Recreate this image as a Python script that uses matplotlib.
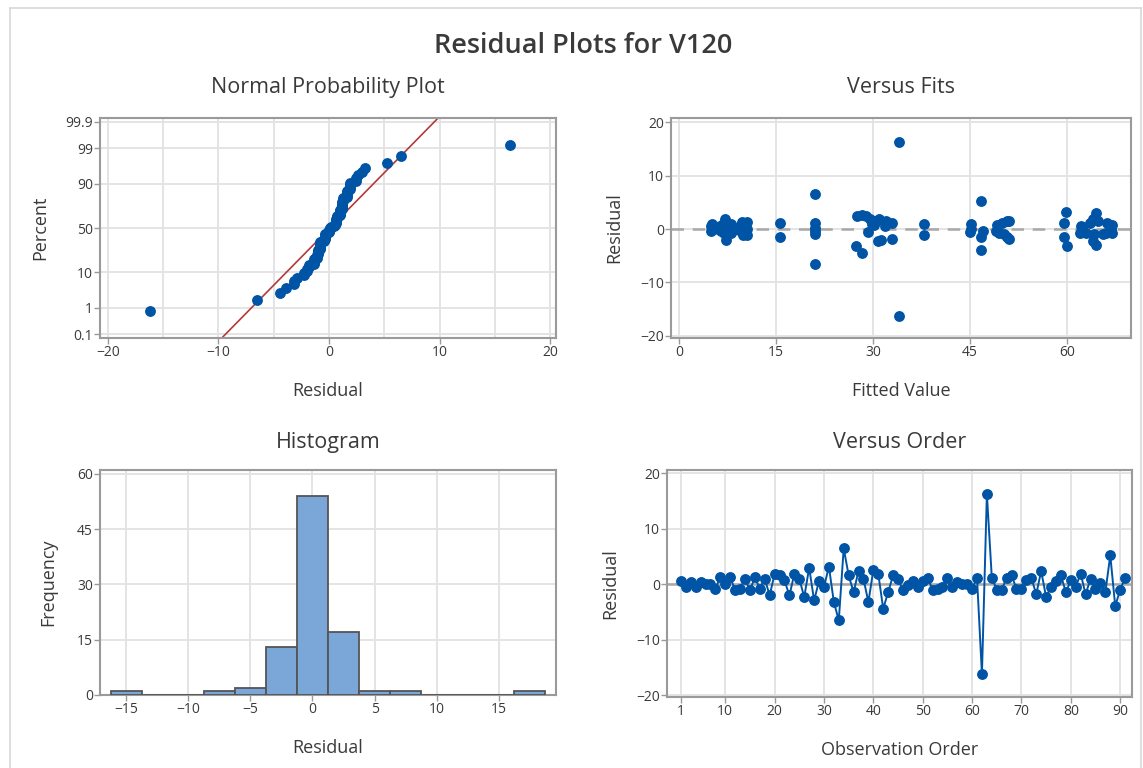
import numpy as np
import matplotlib
matplotlib.use("Agg")
import matplotlib.pyplot as plt
from matplotlib.ticker import MultipleLocator, FixedLocator
from statistics import NormalDist

# ---------------- data ----------------
residuals = [
    0.6, -0.4, 0.5, -0.4, 0.5, 0.1, 0.0, -0.8, 1.3, 0.1,
    1.3, -1.1, -0.8, 1.0, -1.1, 1.3, -0.8, 1.0, -2.0, 1.9,
    1.6, 0.7, -2.0, 1.9, 1.0, -2.3, 3.0, -2.9, 0.6, -0.5,
    3.2, -3.2, -6.5, 6.5, 1.6, -1.4, 2.4, 1.0, -3.2, 2.6,
    1.9, -4.4, -1.4, 1.6, 1.0, -1.1, -0.2, 0.6, -0.5, 0.6,
    1.2, -1.0, -0.8, -0.4, 1.2, -0.4, 0.4, 0.0, 0.0, -0.8,
    1.2, -16.2, 16.3, 1.2, -1.0, -1.0, 1.2, 1.6, -0.8, -0.8,
    0.7, 1.2, -1.8, 2.4, -2.3, -0.4, 0.6, 1.6, -1.4, 0.7,
    -0.4, 1.9, -1.8, 1.0, -0.8, 0.2, -1.4, 5.2, -3.9, -1.0,
    1.2,
]
fitted = [
    5.0, 5.0, 6.3, 6.5, 7.8, 8.3, 6.0, 7.5, 7.2, 10.5,
    9.8, 9.9, 7.0, 6.8, 10.6, 10.5, 8.0, 8.0, 7.3, 7.2,
    30.5, 30.2, 31.2, 29.5, 5.1, 30.8, 64.5, 64.5, 31.8, 29.2,
    59.9, 60.0, 21.0, 21.0, 32.0, 15.6, 27.5, 29.8, 27.4, 28.3,
    31.0, 28.3, 59.6, 50.8, 37.9, 37.9, 9.3, 7.6, 45.0, 9.5,
    21.0, 21.0, 63.0, 21.0, 15.6, 62.5, 62.3, 45.2, 66.8, 66.0,
    63.5, 34.0, 34.0, 59.5, 65.5, 64.2, 66.2, 64.8, 67.0, 62.0,
    67.0, 33.0, 33.0, 29.0, 64.0, 47.0, 62.2, 51.0, 50.8, 49.2,
    49.0, 64.0, 51.0, 45.2, 49.5, 21.1, 46.7, 46.7, 46.7, 50.2,
    50.0,
]
percent_ticks = [0.1, 1, 10, 50, 90, 99, 99.9]
percent_labels = ["0.1", "1", "10", "50", "90", "99", "99.9"]
order_ticks = [1, 10, 20, 30, 40, 50, 60, 70, 80, 90]
fits_ticks = [0, 15, 30, 45, 60]
hist_edges = np.arange(-16.25, 19.0, 2.5)

# ---------------- style ----------------
plt.rcParams['font.family'] = ['Open Sans', 'DejaVu Sans']
BLUE = '#0054A6'
GRID = '#E2E2E2'
SPINE = '#9A9A9A'
TXT = '#3A3A3A'
TSZ = 15.5   # subplot title size
LSZ = 13     # axis label size
KSZ = 10     # tick label size

W, H = 1143, 768
fig = plt.figure(figsize=(W / 100, H / 100), dpi=100)
fig.patch.set_facecolor('white')


def ax_at(l, t, r, b):
    return fig.add_axes([l / W, 1 - b / H, (r - l) / W, (b - t) / H])


def style(ax):
    for s in ax.spines.values():
        s.set_color(SPINE)
        s.set_linewidth(1.5)
    ax.tick_params(which='major', direction='out', length=4, width=1,
                   color=SPINE, labelcolor=TXT, labelsize=KSZ, pad=1)
    ax.tick_params(which='minor', length=0)
    ax.set_axisbelow(True)
    ax.grid(True, which='major', color=GRID, lw=1.3)


# border of the window
fig.add_artist(plt.Line2D([10 / W, 1141 / W], [1 - 8 / H, 1 - 8 / H], color='#D8D8D8', lw=1.2))
fig.add_artist(plt.Line2D([10 / W, 10 / W], [1 - 8 / H, 0], color='#D8D8D8', lw=1.2))
fig.add_artist(plt.Line2D([1141 / W, 1141 / W], [1 - 8 / H, 0], color='#D8D8D8', lw=1.2))

fig.text(583 / W, 1 - 46 / H, "Residual Plots for V120", ha='center', va='center',
         fontsize=19.5, color=TXT, fontweight='semibold')

res = np.array(residuals)
n = len(res)
nd = NormalDist()

# ---------------- Normal probability plot ----------------
ax1 = ax_at(100, 118, 556, 338)
style(ax1)
srt = np.sort(res)
pp = (np.arange(1, n + 1) - 0.3) / (n + 0.4)
zz = np.array([nd.inv_cdf(p) for p in pp])
mu, sd = res.mean(), res.std(ddof=1)
zl = np.array([-3.3, 3.3])
ax1.plot(mu + sd * zl, zl, color='#B23A3A', lw=1.2, zorder=2)
ax1.plot(srt, zz, 'o', color=BLUE, ms=6.8, mec=BLUE, zorder=3)
ax1.set_xlim(-20.7, 20.5)
ax1.set_ylim(-3.2, 3.2)
ax1.xaxis.set_major_locator(FixedLocator([-20, -10, 0, 10, 20]))
ax1.xaxis.set_minor_locator(MultipleLocator(5))
ax1.grid(True, which='minor', axis='x', color=GRID, lw=1.3)
ax1.set_yticks([nd.inv_cdf(p / 100) for p in percent_ticks])
ax1.set_yticklabels(percent_labels)
ax1.set_title("Normal Probability Plot", fontsize=TSZ, color=TXT, pad=18)
ax1.set_xlabel("Residual", fontsize=LSZ, color=TXT, labelpad=16)
ax1.set_ylabel("Percent", fontsize=LSZ, color=TXT, labelpad=12)

# ---------------- Versus Fits ----------------
ax2 = ax_at(671, 118, 1131, 338)
style(ax2)
ax2.axhline(0, color='#A8A8A8', lw=1.8, ls=(0, (5, 3.5)), zorder=1.5)
ax2.plot(fitted, residuals, 'o', color=BLUE, ms=6.8, mec=BLUE, zorder=3)
ax2.set_xlim(-1.2, 69.9)
ax2.set_ylim(-20.4, 20.8)
ax2.set_xticks(fits_ticks)
ax2.set_yticks([-20, -10, 0, 10, 20])
ax2.set_title("Versus Fits", fontsize=TSZ, color=TXT, pad=18)
ax2.set_xlabel("Fitted Value", fontsize=LSZ, color=TXT, labelpad=16)
ax2.set_ylabel("Residual", fontsize=LSZ, color=TXT, labelpad=12)

# ---------------- Histogram ----------------
ax3 = ax_at(100, 470, 556, 695)
style(ax3)
ax3.hist(res, bins=hist_edges, color='#7BA6D8', edgecolor='#555555', lw=1.3, zorder=3)
ax3.set_xlim(-17.1, 19.6)
ax3.set_ylim(0, 61)
ax3.set_xticks([-15, -10, -5, 0, 5, 10, 15])
ax3.set_yticks([0, 15, 30, 45, 60])
ax3.set_title("Histogram", fontsize=TSZ, color=TXT, pad=16)
ax3.set_xlabel("Residual", fontsize=LSZ, color=TXT, labelpad=16)
ax3.set_ylabel("Frequency", fontsize=LSZ, color=TXT, labelpad=14)

# ---------------- Versus Order ----------------
ax4 = ax_at(667, 470, 1132, 697)
style(ax4)
order = np.arange(1, n + 1)
ax4.axhline(0, color='#A8A8A8', lw=1.8, zorder=1.5)
ax4.plot(order, res, '-o', color=BLUE, lw=1.4, ms=6.8, mec=BLUE, zorder=3)
ax4.set_xlim(-1.8, 92.4)
ax4.set_ylim(-20.3, 20.6)
ax4.set_xticks(order_ticks)
ax4.set_yticks([-20, -10, 0, 10, 20])
ax4.set_title("Versus Order", fontsize=TSZ, color=TXT, pad=16)
ax4.set_xlabel("Observation Order", fontsize=LSZ, color=TXT, labelpad=16)
ax4.set_ylabel("Residual", fontsize=LSZ, color=TXT, labelpad=12)

fig.savefig("out.png", dpi=100, facecolor='white')
